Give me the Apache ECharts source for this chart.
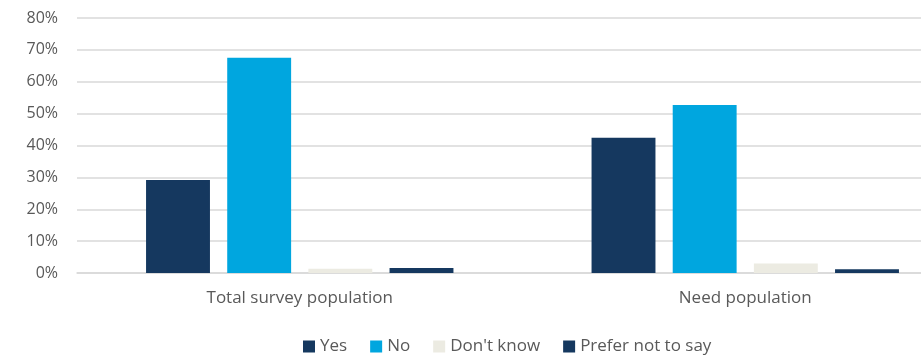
<!DOCTYPE html>
<html>
<head>
<meta charset="utf-8">
<script src="https://cdn.jsdelivr.net/npm/echarts@6/dist/echarts.min.js"></script>
<style>
  html, body { margin: 0; padding: 0; background: #fff; overflow: hidden; }
  #chart { width: 921px; height: 355px; }
</style>
</head>
<body>
<div id="chart"></div>
<script>
// Survey response shares by population group
const categories = ['Total survey population', 'Need population'];
const seriesNames = ['Yes', 'No', "Don't know", 'Prefer not to say'];
const yesValues = [29.2, 42.4];
const noValues = [67.5, 52.7];
const dontKnowValues = [1.3, 3.0];
const preferNotValues = [1.6, 1.2];
const colors = ['#15385f', '#00a6df', '#ecebe2', '#15385f'];

const chart = echarts.init(document.getElementById('chart'));
const textFont = 'Open Sans';
const dataSets = [yesValues, noValues, dontKnowValues, preferNotValues];

chart.setOption({
  animation: false,
  // plot area runs past the right edge of the canvas
  grid: { left: 77, width: 891, top: 18, bottom: 82, containLabel: false, outerBoundsMode: 'none' },
  legend: {
    top: 333,
    left: 298,
    itemWidth: 12,
    itemHeight: 12,
    itemGap: 23,
    icon: 'rect',
    textStyle: { color: '#595959', fontSize: 17, fontFamily: textFont },
    data: seriesNames
  },
  xAxis: {
    type: 'category',
    data: categories,
    axisTick: { show: false },
    axisLine: { lineStyle: { color: '#d9d9d9', width: 1.5 } },
    axisLabel: { color: '#595959', fontSize: 17, fontFamily: textFont, margin: 17 }
  },
  yAxis: {
    type: 'value',
    min: 0,
    max: 80,
    interval: 10,
    axisLine: { show: false },
    axisTick: { show: false },
    splitLine: { lineStyle: { color: '#d9d9d9', width: 1.5 } },
    axisLabel: { color: '#595959', fontSize: 16, fontFamily: textFont, margin: 19, formatter: '{value}%' }
  },
  series: seriesNames.map((name, i) => ({
    name: name,
    type: 'bar',
    data: dataSets[i],
    barGap: '27%',
    barCategoryGap: '31%',
    itemStyle: { color: colors[i] }
  }))
});
</script>
</body>
</html>
